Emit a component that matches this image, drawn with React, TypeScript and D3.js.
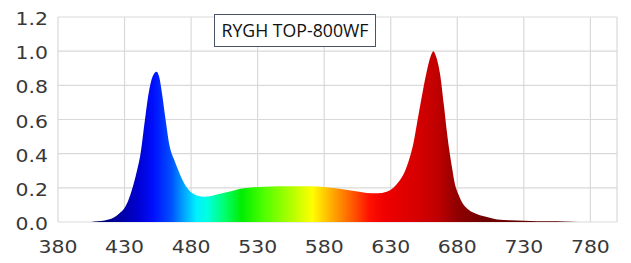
import React from "react";
import * as d3 from "d3";

const wavelengths = [405, 410, 415, 418, 422, 426, 430, 433, 436, 439, 442, 445, 448, 451, 454, 456, 458, 461, 464, 467, 470, 473, 477, 481, 485, 490, 495, 500, 510, 517, 525, 535, 545, 555, 565, 575, 585, 595, 605, 612, 620, 627, 632, 636, 640, 644, 647, 650, 653, 657, 660, 662, 664, 667, 670, 672, 674, 676, 678, 681, 684, 688, 692, 697, 703, 710, 720, 730, 740, 750, 760, 771];
const intensities = [0.0, 0.004, 0.009, 0.014, 0.027, 0.05, 0.082, 0.13, 0.2, 0.29, 0.4, 0.58, 0.75, 0.85, 0.88, 0.85, 0.76, 0.59, 0.44, 0.37, 0.31, 0.255, 0.2, 0.168, 0.153, 0.148, 0.152, 0.162, 0.18, 0.195, 0.202, 0.207, 0.209, 0.21, 0.21, 0.208, 0.2, 0.19, 0.178, 0.17, 0.168, 0.177, 0.2, 0.235, 0.285, 0.37, 0.46, 0.59, 0.72, 0.88, 0.97, 1.0, 0.97, 0.87, 0.68, 0.54, 0.42, 0.32, 0.23, 0.16, 0.11, 0.075, 0.055, 0.04, 0.028, 0.015, 0.01, 0.007, 0.005, 0.004, 0.003, 0.0];

const colorStops: [number, string][] = [
  [400, "#000060"], [420, "#00008c"], [440, "#0000d0"], [452, "#0010ff"], [465, "#0050ff"],
  [475, "#00a8ff"], [484, "#00f0ff"], [492, "#00ffe0"], [505, "#00ff70"], [518, "#00ee00"],
  [535, "#50ff00"], [555, "#b0ff00"], [571, "#ffff00"], [585, "#ffb000"], [600, "#ff6000"],
  [614, "#ff1000"], [625, "#f00000"], [650, "#d60000"], [665, "#c00000"], [680, "#900000"],
  [700, "#700000"], [780, "#500000"],
];

const xTicks = [380, 430, 480, 530, 580, 630, 680, 730, 780];
const yTicks = [0, 0.2, 0.4, 0.6, 0.8, 1.0, 1.2];
const title = "RYGH TOP-800WF";

export default function App() {
  const W = 631, H = 263;
  const x = d3.scaleLinear().domain([380, 800]).range([58, 617]);
  const y = d3.scaleLinear().domain([0, 1.2]).range([222, 17]);
  const data = wavelengths.map((w, i) => [w, intensities[i]] as [number, number]);
  const area = d3.area<[number, number]>()
    .x(d => x(d[0]))
    .y0(y(0))
    .y1(d => y(d[1]))
    .curve(d3.curveMonotoneX);
  const x0 = x(380), x1 = x(800);
  const grid = "#d9d9d9";
  const labelColor = "#383838";
  const font = "DejaVu Sans, Verdana, sans-serif";
  return (
    <svg width={W} height={H} style={{ position: "absolute", left: 0, top: 0 }}>
      <defs>
        <linearGradient id="spec" gradientUnits="userSpaceOnUse" x1={x0} x2={x1} y1={0} y2={0}>
          {colorStops.map(([w, c], i) => (
            <stop key={i} offset={(x(w) - x0) / (x1 - x0)} stopColor={c} />
          ))}
        </linearGradient>
      </defs>
      <rect x={0} y={0} width={W} height={H} fill="#fff" />
      {yTicks.map(t => (
        <line key={"gy" + t} x1={x0} x2={x1} y1={y(t)} y2={y(t)} stroke={grid} strokeWidth={1.2} />
      ))}
      {xTicks.map(t => (
        <line key={"gx" + t} x1={x(t)} x2={x(t)} y1={y(0)} y2={y(1.2)} stroke={grid} strokeWidth={1.2} />
      ))}
      <line x1={x1} x2={x1} y1={y(0)} y2={y(1.2)} stroke={grid} strokeWidth={1.2} />
      <path d={area(data) || ""} fill="url(#spec)" />
      {yTicks.map(t => (
        <text key={"ly" + t} transform={`translate(48,${y(t) + 8}) scale(1.2,1)`} textAnchor="end"
          fontFamily={font} fontSize={17} fill={labelColor}>{t.toFixed(1)}</text>
      ))}
      {xTicks.map(t => (
        <text key={"lx" + t} transform={`translate(${x(t)},253) scale(1.2,1)`} textAnchor="middle"
          fontFamily={font} fontSize={17} fill={labelColor}>{t}</text>
      ))}
      <rect x={214.5} y={14.5} width={161} height={32} fill="#fff" stroke="#4a5468" strokeWidth={1} />
      <text x={295} y={36.5} textAnchor="middle" fontFamily="'Open Sans', sans-serif" fontSize={17.5}
        fill="#111" textLength={147} lengthAdjust="spacingAndGlyphs">{title}</text>
    </svg>
  );
}
